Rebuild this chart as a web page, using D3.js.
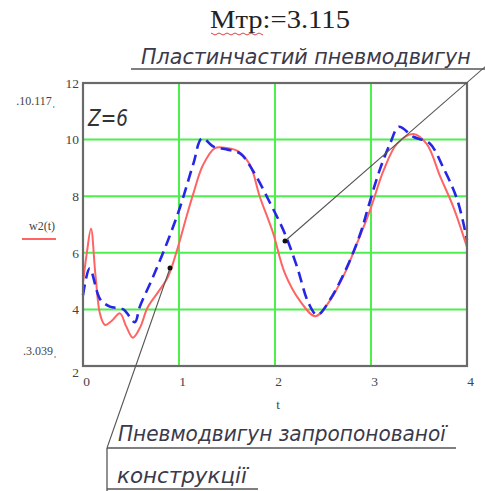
<!DOCTYPE html>
<html><head><meta charset="utf-8">
<script src="https://cdn.jsdelivr.net/npm/d3@7"></script>
<style>body{margin:0;background:#fff}svg{display:block}</style>
</head><body>
<script>
// ---- data ----
const tRed = [0,0.04,0.083,0.13,0.18,0.23,0.3,0.385,0.45,0.52,0.6,0.67,0.78,0.885,0.98,1.08,1.15,1.25,1.375,1.5,1.61,1.74,1.84,1.98,2.1,2.26,2.42,2.57,2.73,2.85,2.99,3.13,3.27,3.44,3.58,3.72,3.86,4.0];
const wRed = [4.95,6.0,6.85,5.2,3.8,3.45,3.6,3.86,3.4,3.0,3.4,4.05,4.6,5.15,6.1,7.3,8.1,9.1,9.7,9.7,9.6,9.1,8.0,6.7,5.3,4.3,3.76,4.3,5.3,6.3,7.5,8.9,9.85,10.2,9.85,8.7,7.6,6.2];
const tBlue = [0,0.07,0.18,0.28,0.42,0.54,0.59,0.73,0.875,1.01,1.15,1.24,1.36,1.5,1.64,1.77,1.95,2.1,2.23,2.35,2.44,2.57,2.75,2.89,2.97,3.09,3.2,3.29,3.44,3.61,3.75,3.9,4.0];
const wBlue = [4.5,5.45,4.35,4.1,4.0,3.55,4.08,5.15,6.35,7.6,9.15,10.05,9.75,9.65,9.5,8.9,7.75,6.7,5.5,4.22,3.8,4.33,5.5,6.69,7.6,8.92,9.87,10.45,10.1,9.87,9.03,7.86,6.45];
const xTicks = [0,1,2,3,4];
const yTicks = [2,4,6,8,10,12];
const title = "Мтр:=3.115";
const label1 = "Пластинчастий пневмодвигун";
const label2a = "Пневмодвигун запропонованої";
const label2b = "конструкції";
const markTop = "10.117", markBot = "3.039", yName = "w2(t)", xName = "t", zText = "Z=6";

const W = 485, H = 491;
const svg = d3.select("body").append("svg").attr("width", W).attr("height", H);
const x = d3.scaleLinear().domain([0,4]).range([83,467]);
const y = d3.scaleLinear().domain([2,12]).range([366,83]);

// grid
const grid = "#4def4d";
svg.append("g").selectAll("line").data([1,2,3]).join("line")
  .attr("x1", d=>x(d)).attr("x2", d=>x(d)).attr("y1", y(12)).attr("y2", y(2))
  .attr("stroke", grid).attr("stroke-width", 2);
svg.append("g").selectAll("line").data([4,6,8,10]).join("line")
  .attr("x1", x(0)).attr("x2", x(4)).attr("y1", d=>y(d)).attr("y2", d=>y(d))
  .attr("stroke", grid).attr("stroke-width", 2);

// curves
const redData = tRed.map((t,i)=>[t,wRed[i]]);
const blueData = tBlue.map((t,i)=>[t,wBlue[i]]);
const line = d3.line().x(d=>x(d[0])).y(d=>y(d[1])).curve(d3.curveCatmullRom.alpha(0.5));
svg.append("path").attr("d", line(redData)).attr("fill","none")
  .attr("stroke","#ff6464").attr("stroke-width",2);
svg.append("path").attr("d", line(blueData)).attr("fill","none")
  .attr("stroke","#2626e6").attr("stroke-width",2.6).attr("stroke-dasharray","11,6");

// frame
svg.append("rect").attr("x", x(0)).attr("y", y(12)).attr("width", x(4)-x(0)).attr("height", y(2)-y(12))
  .attr("fill","none").attr("stroke","#6a6a6a").attr("stroke-width",2.2);

// axes (labels only)
const serif = "'Liberation Serif','Times New Roman',serif";
const ax = svg.append("g").attr("transform",`translate(0,${y(2)})`)
  .call(d3.axisBottom(x).tickValues(xTicks).tickSize(0).tickFormat(d3.format("d")));
ax.select(".domain").remove();
ax.selectAll("text").attr("font-family", serif).attr("font-size", 13.5).attr("fill","#444")
  .attr("dx", 3).attr("dy", "1.25em");
const ay = svg.append("g").attr("transform",`translate(${x(0)},0)`)
  .call(d3.axisLeft(y).tickValues(yTicks).tickSize(0).tickFormat(d3.format("d")));
ay.select(".domain").remove();
ay.selectAll("text").attr("font-family", serif).attr("font-size", 13.5).attr("fill","#444")
  .attr("dx", -1).attr("dy", d => d===2 ? "0.75em" : "0.32em");

svg.append("text").attr("x", 278).attr("y", 409).attr("text-anchor","middle")
  .attr("font-family", serif).attr("font-size", 13).attr("fill","#444").text(xName);

// left markers
svg.append("text").attr("x", 36).attr("y", 105).attr("text-anchor","middle")
  .attr("font-family", serif).attr("font-size", 12).attr("fill","#444").text("." + markTop + "\u02CC");
svg.append("text").attr("x", 40).attr("y", 355).attr("text-anchor","middle")
  .attr("font-family", serif).attr("font-size", 12).attr("fill","#444").text("." + markBot + "\u02CC");
svg.append("text").attr("x", 42).attr("y", 230).attr("text-anchor","middle")
  .attr("font-family", serif).attr("font-size", 12).attr("fill","#444").text(yName);
svg.append("line").attr("x1", 22).attr("x2", 56).attr("y1", 239).attr("y2", 239)
  .attr("stroke","#ff6464").attr("stroke-width",2);

// helper: text fitted to a width via horizontal scaling
function fitText(txt, x0, y0, width, size, family, style, weight, fill) {
  const g = svg.append("g");
  const t = g.append("text").attr("x",0).attr("y",0)
    .attr("font-family", family).attr("font-style", style).attr("font-weight", weight)
    .attr("font-size", size).attr("fill", fill).text(txt);
  const len = t.node().getComputedTextLength();
  g.attr("transform", `translate(${x0},${y0}) scale(${width/len},1)`);
  return g;
}

// title
fitText(title, 210, 28, 140, 25, serif, "normal", 400, "#222");
svg.append("path").attr("d", d3.range(0,14).map((i)=>`${i?"L":"M"}${211+i*4},${i%2?35:33}`).join(""))
  .attr("fill","none").attr("stroke","#e04040").attr("stroke-width",1);

// Z=6
const gost = "'DejaVu Sans','Liberation Sans',sans-serif";
fitText(zText, 88, 126, 40, 23, gost, "italic", 300, "#333");

// annotation 1
fitText(label1, 141, 64, 330, 22, gost, "italic", 300, "#3a3a4a");
svg.append("line").attr("x1",131).attr("x2",485).attr("y1",69).attr("y2",69).attr("stroke","#555").attr("stroke-width",1.3);
svg.append("line").attr("x1",486).attr("y1",66).attr("x2",285).attr("y2",241).attr("stroke","#555").attr("stroke-width",1.1);
svg.append("circle").attr("cx",285).attr("cy",241).attr("r",2.5).attr("fill","#111");

// annotation 2
fitText(label2a, 118, 441, 328, 22, gost, "italic", 300, "#3a3a4a");
svg.append("line").attr("x1",107).attr("x2",456).attr("y1",448).attr("y2",448).attr("stroke","#555").attr("stroke-width",1.3);
svg.append("line").attr("x1",107).attr("y1",448).attr("x2",107).attr("y2",491).attr("stroke","#555").attr("stroke-width",1.3);
fitText(label2b, 117, 483, 130, 22, gost, "italic", 300, "#3a3a4a");
svg.append("line").attr("x1",107).attr("x2",258).attr("y1",489).attr("y2",489).attr("stroke","#555").attr("stroke-width",1.3);
svg.append("line").attr("x1",107).attr("y1",448).attr("x2",170).attr("y2",268).attr("stroke","#555").attr("stroke-width",1.1);
svg.append("circle").attr("cx",170).attr("cy",268).attr("r",2.5).attr("fill","#111");
</script>
</body></html>
